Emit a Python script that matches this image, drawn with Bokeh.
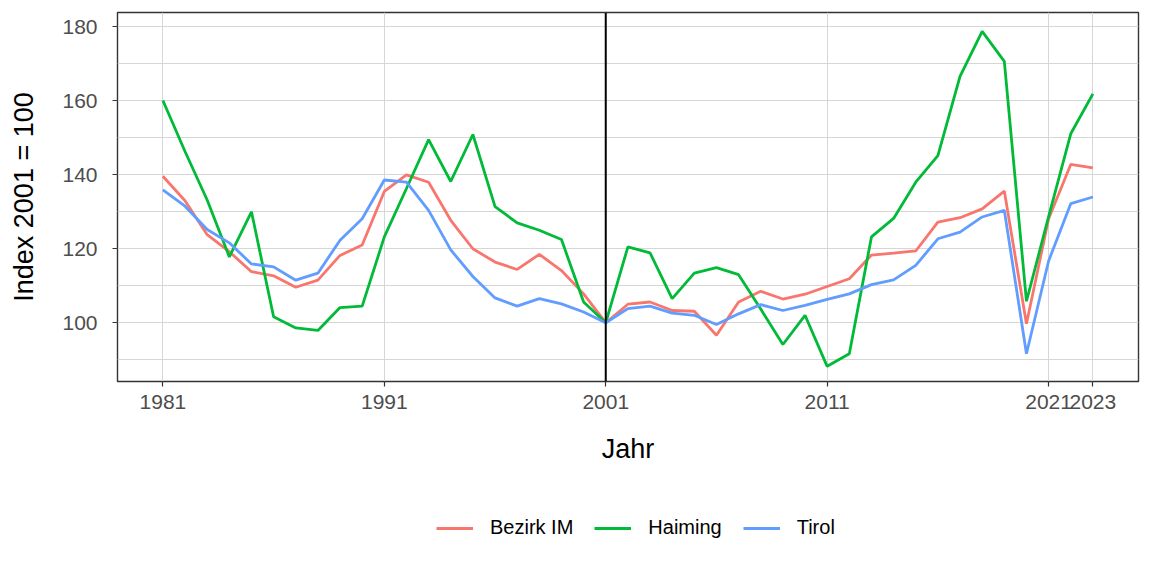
from bokeh.plotting import figure
from bokeh.layouts import column
from bokeh.models import Range1d, FixedTicker, Span, Legend, LegendItem, ColumnDataSource
from bokeh.embed import file_html
from bokeh.resources import INLINE

years = list(range(1981, 2024))

bezirk_im = [139.6, 133.0, 123.8, 119.2, 113.8, 112.7, 109.6, 111.5, 118.2, 121.0,
             135.5, 140.0, 138.0, 127.7, 120.0, 116.4, 114.4, 118.5, 114.1, 107.8,
             100.0, 105.0, 105.6, 103.3, 103.1, 96.6, 105.6, 108.5, 106.4, 107.7,
             109.8, 111.9, 118.3, 118.8, 119.4, 127.2, 128.4, 130.8, 135.6, 99.7,
             128.1, 142.8, 141.9]

haiming = [160.1, 146.3, 133.2, 117.8, 130.0, 101.6, 98.6, 97.9, 104.1, 104.5,
           123.2, 136.3, 149.5, 138.2, 150.9, 131.4, 127.0, 125.0, 122.5, 105.6,
           100.0, 120.5, 118.9, 106.5, 113.4, 114.9, 113.0, 103.7, 94.1, 102.0,
           88.2, 91.6, 123.2, 128.2, 138.0, 145.2, 166.6, 178.8, 170.7, 105.8,
           128.7, 151.1, 161.9]

tirol = [135.9, 131.5, 125.2, 121.6, 115.9, 115.1, 111.5, 113.4, 122.3, 128.1,
         138.6, 138.0, 130.4, 119.7, 112.5, 106.7, 104.5, 106.5, 105.1, 102.9,
         100.0, 103.8, 104.5, 102.6, 102.0, 99.5, 102.4, 104.9, 103.3, 104.7,
         106.3, 107.8, 110.3, 111.6, 115.5, 122.7, 124.5, 128.6, 130.4, 91.6,
         116.7, 132.2, 134.0]

series_names = ["Bezirk IM", "Haiming", "Tirol"]
series_colors = ["#F8766D", "#00BA38", "#619CFF"]

x_ticks = [1981, 1991, 2001, 2011, 2021, 2023]
y_ticks = [100, 120, 140, 160, 180]
y_minor = [90, 110, 130, 150, 170]
ref_year = 2001

FONT = "Liberation Sans"
LINE_W = 2.8

p = figure(width=1152, height=480, output_backend="svg", toolbar_location=None,
           x_range=Range1d(1978.95, 2025.06), y_range=Range1d(84.1, 183.9),
           min_border_left=117, min_border_right=14, min_border_top=12,
           min_border_bottom=99)

p.background_fill_color = "white"
p.border_fill_color = "white"
p.outline_line_color = "#333333"
p.outline_line_width = 1.4

p.xaxis.ticker = FixedTicker(ticks=x_ticks)
p.yaxis.ticker = FixedTicker(ticks=y_ticks, minor_ticks=y_minor)
for ax in (p.xaxis[0], p.yaxis[0]):
    ax.axis_line_color = None
    ax.major_tick_line_color = "#333333"
    ax.major_tick_line_width = 1.2
    ax.major_tick_out = 5
    ax.major_tick_in = 0
    ax.minor_tick_line_color = None
    ax.major_label_text_font = FONT
    ax.major_label_text_font_size = "21px"
    ax.major_label_text_color = "#4D4D4D"
    ax.axis_label_text_font = FONT
    ax.axis_label_text_font_size = "27px"
    ax.axis_label_text_font_style = "normal"
    ax.axis_label_text_color = "black"

p.xaxis.axis_label = "Jahr"
p.yaxis.axis_label = "Index 2001 = 100"
p.xaxis.major_label_standoff = 8
p.xaxis.axis_label_standoff = 22
p.yaxis.major_label_standoff = 15
p.yaxis.axis_label_standoff = 20

p.xgrid.grid_line_color = "#D6D6D6"
p.xgrid.grid_line_width = 1
p.ygrid.grid_line_color = "#D6D6D6"
p.ygrid.grid_line_width = 1
p.ygrid.minor_grid_line_color = "#D6D6D6"
p.ygrid.minor_grid_line_width = 1

sources = []
for vals, col in zip([bezirk_im, haiming, tirol], series_colors):
    src = ColumnDataSource(dict(x=years, y=vals))
    sources.append(src)
    p.line("x", "y", source=src, line_color=col, line_width=LINE_W)

p.add_layout(Span(location=ref_year, dimension="height", line_color="black", line_width=2))

# legend strip below the chart (its own ranges keep the series out of view)
lg = figure(width=1152, height=96, output_backend="svg", toolbar_location=None,
            x_axis_type=None, y_axis_type=None,
            x_range=Range1d(0, 1), y_range=Range1d(0, 1),
            min_border_left=0, min_border_right=0, min_border_top=0, min_border_bottom=0)
lg.outline_line_color = None
lg.background_fill_color = "white"
lg.border_fill_color = "white"

items = []
for name, col, src in zip(series_names, series_colors, sources):
    r = lg.line("x", "y", source=src, line_color=col, line_width=LINE_W)
    items.append(LegendItem(label=name, renderers=[r]))

legend = Legend(items=items, orientation="horizontal", location=(319, 37),
                glyph_width=37, glyph_height=20, label_standoff=17, spacing=21,
                padding=0, margin=0, border_line_color=None, background_fill_alpha=0,
                label_text_font=FONT, label_text_font_size="20px", label_text_color="black")
lg.add_layout(legend, "center")

layout = column(p, lg, spacing=0)

open("out.html", "w").write(file_html(layout, INLINE))
